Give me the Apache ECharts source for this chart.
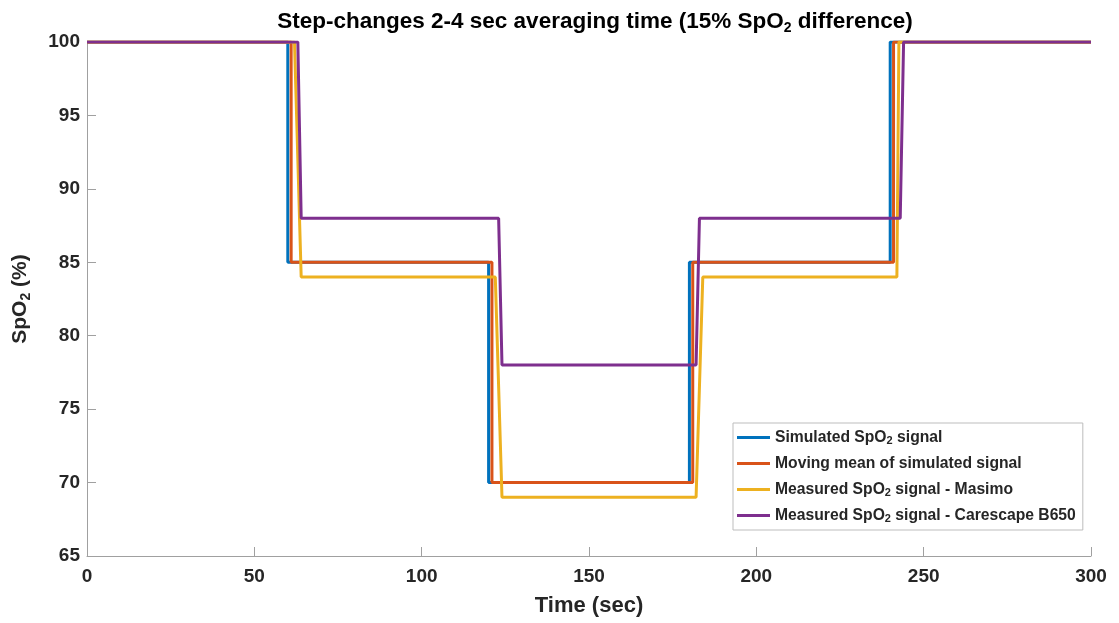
<!DOCTYPE html>
<html>
<head>
<meta charset="utf-8">
<title>Step-changes 2-4 sec averaging time</title>
<script src="https://cdn.jsdelivr.net/npm/echarts@6/dist/echarts.min.js"></script>
<style>
  html, body { margin: 0; padding: 0; background: #fff; }
  #chart { width: 1119px; height: 623px; }
</style>
</head>
<body>
<div id="chart"></div>
<script>
// Time axis ticks (sec) and SpO2 axis ticks (%)
const xTicks = [0, 50, 100, 150, 200, 250, 300];
const yTicks = [65, 70, 75, 80, 85, 90, 95, 100];

// Simulated SpO2 signal
const simTime = [0, 60, 60, 120, 120, 180, 180, 240, 240, 300];
const simSpO2 = [100, 100, 85, 85, 70, 70, 85, 85, 100, 100];

// Moving mean of the simulated signal
const meanTime = [0, 61, 61, 121, 121, 181, 181, 241, 241, 300];
const meanSpO2 = [100, 100, 85, 85, 70, 70, 85, 85, 100, 100];

// Masimo measurement
const masimoTime = [0, 62, 64, 122, 124, 182, 184, 242, 242.6, 300];
const masimoSpO2 = [100, 100, 84, 84, 69, 69, 84, 84, 100, 100];

// Carescape B650 measurement
const carescapeTime = [0, 63, 64, 123, 124, 182, 183, 243, 244, 300];
const carescapeSpO2 = [100, 100, 88, 88, 78, 78, 88, 88, 100, 100];

const seriesNames = [
  'Simulated SpO2 signal',
  'Moving mean of simulated signal',
  'Measured SpO2 signal - Masimo',
  'Measured SpO2 signal - Carescape B650'
];
const seriesColors = ['#0072BD', '#D95319', '#EDB120', '#7E2F8E'];

const pairs = (xs, ys) => xs.map((x, i) => [x, ys[i]]);
const seriesData = [
  pairs(simTime, simSpO2),
  pairs(meanTime, meanSpO2),
  pairs(masimoTime, masimoSpO2),
  pairs(carescapeTime, carescapeSpO2)
];

// Render "SpO2" with a subscript 2 using rich text
const withSub = (s) => s.replace(/SpO2/g, 'SpO{sub|2}');

const fontFamily = 'Liberation Sans, Arial, Helvetica, sans-serif';
const textColor = '#262626';
const axisGray = '#a0a0a0';

const chart = echarts.init(document.getElementById('chart'), null, { renderer: 'canvas' });

chart.setOption({
  animation: false,
  backgroundColor: '#ffffff',
  title: {
    text: 'Step-changes 2-4 sec averaging time (15% SpO{sub|2} difference)',
    left: 590,
    textAlign: 'center',
    top: 3,
    textStyle: {
      fontFamily: fontFamily,
      fontWeight: 'bold',
      fontSize: 22.5,
      color: '#000',
      lineHeight: 27,
      rich: {
        sub: { fontFamily: fontFamily, fontWeight: 'bold', fontSize: 14, lineHeight: 13, verticalAlign: 'bottom', color: '#000' }
      }
    }
  },
  grid: { left: 87, right: 28, top: 42, bottom: 67, containLabel: false },
  legend: {
    orient: 'vertical',
    left: 733,
    top: 423,
    padding: [6, 7, 6, 4],
    itemGap: 9,
    itemWidth: 33,
    itemHeight: 3,
    icon: 'rect',
    backgroundColor: '#ffffff',
    borderColor: '#bdbdbd',
    borderWidth: 1,
    borderRadius: 0,
    data: seriesNames,
    formatter: (name) => withSub(name),
    textStyle: {
      fontFamily: fontFamily,
      fontWeight: 'bold',
      fontSize: 15.7,
      color: textColor,
      lineHeight: 17,
      rich: {
        sub: { fontFamily: fontFamily, fontWeight: 'bold', fontSize: 11, lineHeight: 9, verticalAlign: 'bottom', color: textColor }
      }
    }
  },
  xAxis: {
    type: 'value',
    min: xTicks[0],
    max: xTicks[xTicks.length - 1],
    interval: xTicks[1] - xTicks[0],
    name: 'Time (sec)',
    nameLocation: 'middle',
    nameGap: 39,
    nameTextStyle: { fontFamily: fontFamily, fontWeight: 'bold', fontSize: 22, color: textColor },
    axisLine: { show: true, lineStyle: { color: axisGray, width: 1 } },
    axisTick: { show: true, inside: true, length: 9, lineStyle: { color: axisGray } },
    axisLabel: { fontFamily: fontFamily, fontWeight: 'bold', fontSize: 19, color: textColor, margin: 11 },
    splitLine: { show: false }
  },
  yAxis: {
    type: 'value',
    min: yTicks[0],
    max: yTicks[yTicks.length - 1],
    interval: yTicks[1] - yTicks[0],
    name: 'SpO{sub|2} (%)',
    nameLocation: 'middle',
    nameGap: 54,
    nameRotate: 90,
    nameTextStyle: {
      fontFamily: fontFamily, fontWeight: 'bold', fontSize: 21, color: textColor, lineHeight: 25,
      rich: {
        sub: { fontFamily: fontFamily, fontWeight: 'bold', fontSize: 14, lineHeight: 12, verticalAlign: 'bottom', color: textColor }
      }
    },
    axisLine: { show: true, lineStyle: { color: axisGray, width: 1 } },
    axisTick: { show: true, inside: true, length: 9, lineStyle: { color: axisGray } },
    axisLabel: { fontFamily: fontFamily, fontWeight: 'bold', fontSize: 19, color: textColor, margin: 7 },
    splitLine: { show: false }
  },
  series: seriesNames.map((name, i) => ({
    name: name,
    type: 'line',
    data: seriesData[i],
    showSymbol: false,
    symbol: 'none',
    color: seriesColors[i],
    lineStyle: { color: seriesColors[i], width: 3 },
    z: 2 + i
  }))
});
</script>
</body>
</html>
